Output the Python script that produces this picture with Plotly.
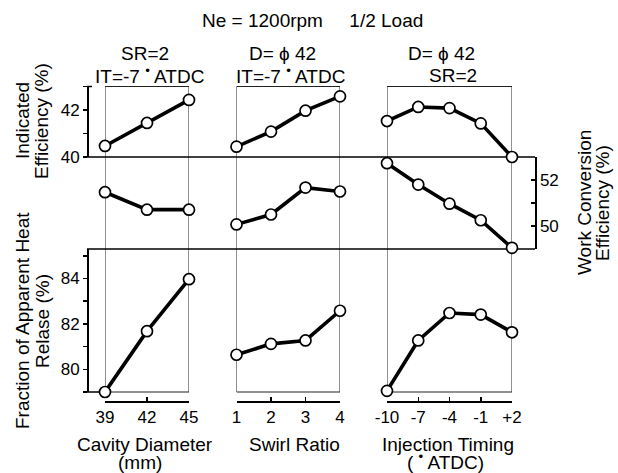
import plotly.graph_objects as go

# ---------------- data ----------------
cavity_diameter = [39, 42, 45]
swirl_ratio = [1, 2, 3, 4]
injection_timing = [-10, -7, -4, -1, 2]
injection_timing_labels = ["-10", "-7", "-4", "-1", "+2"]

ind_eff_cavity = [40.47, 41.45, 42.43]
ind_eff_swirl = [40.44, 41.08, 41.97, 42.58]
ind_eff_timing = [41.53, 42.13, 42.08, 41.43, 40.0]

work_conv_cavity = [51.47, 50.71, 50.71]
work_conv_swirl = [50.07, 50.50, 51.67, 51.50]
work_conv_timing = [52.73, 51.80, 50.97, 50.25, 49.05]

heat_rel_cavity = [79.0, 81.68, 83.97]
heat_rel_swirl = [80.64, 81.12, 81.27, 82.58]
heat_rel_timing = [79.05, 81.27, 82.48, 82.41, 81.63]

ind_eff_ticks = [40, 42]
work_conv_ticks = [50, 52]
heat_rel_ticks = [80, 82, 84]

# ---------------- layout geometry (pixels) ----------------
W, H = 618, 473
FONT = "Liberation Sans, Arial, Helvetica, sans-serif"


def px(x):
    return x / W


def py(y):
    return 1 - y / H


left_axis_x = 87
right_axis_x = 535
panels_px = [(105, 189), (236.5, 340), (387, 512)]
row_top = (86.5, 157)
row_mid = (157, 249)
row_bot = (249, 392)
xaxis_line_y = 401

fig = go.Figure()

panel_x = [cavity_diameter, swirl_ratio, injection_timing]
rows = [
    ("y", [ind_eff_cavity, ind_eff_swirl, ind_eff_timing]),
    ("y2", [work_conv_cavity, work_conv_swirl, work_conv_timing]),
    ("y3", [heat_rel_cavity, heat_rel_swirl, heat_rel_timing]),
]
xnames = ["x", "x2", "x3"]

for yname, series in rows:
    for i, vals in enumerate(series):
        fig.add_trace(go.Scatter(
            x=panel_x[i], y=vals, xaxis=xnames[i], yaxis=yname,
            mode="lines+markers",
            line=dict(color="black", width=3.6),
            marker=dict(symbol="circle", size=11, color="white",
                        line=dict(color="black", width=1.7)),
            cliponaxis=False, showlegend=False, hoverinfo="skip",
        ))

tickfont = dict(family=FONT, size=17, color="black")

xaxis_common = dict(
    anchor="free", position=py(xaxis_line_y), showline=True, linecolor="black",
    linewidth=1.5, ticks="inside", ticklen=4, tickwidth=1.5, tickcolor="black",
    showgrid=False, zeroline=False, tickfont=tickfont, automargin=False,
    fixedrange=True,
)

layout_axes = {}
x_ticktexts = [[str(v) for v in cavity_diameter], [str(v) for v in swirl_ratio],
               injection_timing_labels]
for i, (a, b) in enumerate(panels_px):
    key = "xaxis" if i == 0 else f"xaxis{i+1}"
    layout_axes[key] = dict(
        xaxis_common, domain=[px(a), px(b)],
        range=[panel_x[i][0], panel_x[i][-1]],
        tickvals=panel_x[i], ticktext=x_ticktexts[i],
    )

yaxis_common = dict(
    anchor="free", showline=True, linecolor="black", linewidth=1.5,
    ticklen=4, tickwidth=1.5, tickcolor="black", showgrid=False, zeroline=False,
    tickfont=tickfont, automargin=False, fixedrange=True,
)
layout_axes["yaxis"] = dict(
    yaxis_common, domain=[py(row_top[1]), py(row_top[0])], range=[40, 43],
    position=px(left_axis_x), side="left", ticks="outside",
    tickvals=ind_eff_ticks,
    minor=dict(dtick=1, tick0=40, ticks="outside", ticklen=4, tickwidth=1.5,
               tickcolor="black"),
)
layout_axes["yaxis2"] = dict(
    yaxis_common, domain=[py(row_mid[1]), py(row_mid[0])], range=[49, 53],
    position=px(right_axis_x), side="right", ticks="inside",
    tickvals=work_conv_ticks,
    minor=dict(dtick=1, tick0=49, ticks="inside", ticklen=4, tickwidth=1.5,
               tickcolor="black"),
)
layout_axes["yaxis3"] = dict(
    yaxis_common, domain=[py(row_bot[1]), py(row_bot[0])], range=[79, 85.3],
    position=px(left_axis_x), side="left", ticks="outside",
    tickvals=heat_rel_ticks,
    minor=dict(dtick=1, tick0=79, ticks="outside", ticklen=4, tickwidth=1.5,
               tickcolor="black"),
)

# ---------------- frame lines ----------------
shapes = []
for i in range(3):
    shapes.append(dict(
        type="rect", xref=xnames[i], yref="paper",
        x0=panel_x[i][0], x1=panel_x[i][-1],
        y0=py(row_bot[1]), y1=py(row_top[0]),
        line=dict(color="#222", width=1), layer="below",
    ))
for yy in (row_top[1], row_mid[1]):
    shapes.append(dict(
        type="line", xref="paper", yref="paper",
        x0=px(left_axis_x), x1=px(right_axis_x), y0=py(yy), y1=py(yy),
        line=dict(color="black", width=1.6), layer="below",
    ))
shapes.append(dict(type="line", xref="paper", yref="paper",
                   x0=px(left_axis_x), x1=px(panels_px[0][0]),
                   y0=py(row_bot[1]), y1=py(row_bot[1]),
                   line=dict(color="black", width=1.5), layer="below"))
shapes.append(dict(type="line", xref="paper", yref="paper",
                   x0=px(left_axis_x), x1=px(left_axis_x + 5),
                   y0=py(row_top[0]), y1=py(row_top[0]),
                   line=dict(color="black", width=1.5), layer="below"))

# ---------------- text ----------------
tf = dict(family=FONT, size=19, color="black")
ann = []


def add_text(text, x, y, angle=0):
    ann.append(dict(text=text, x=px(x), y=py(y), xref="paper", yref="paper",
                    showarrow=False, font=tf, textangle=angle,
                    xanchor="center", yanchor="middle"))


add_text("Ne = 1200rpm&nbsp;&nbsp;&nbsp;&nbsp;&nbsp;1/2 Load", 312, 20)

dot = "<sup>•</sup>"
centers = [(a + b) / 2 for a, b in panels_px]
add_text("SR=2", centers[0] - 2, 54)
add_text(f"IT=-7 {dot} ATDC", centers[0] + 2, 75)
add_text("D= ϕ 42", centers[1] - 6, 54)
add_text(f"IT=-7 {dot} ATDC", centers[1] + 2, 75)
add_text("D= ϕ 42", centers[2] - 8, 54)
add_text("SR=2", centers[2] + 3, 75)

add_text("Cavity Diameter", 145, 444)
add_text("(mm)", 140, 462)
add_text("Swirl Ratio", 294, 444)
add_text("Injection Timing", 448, 444)
add_text(f"( {dot} ATDC)", 445, 461)

add_text("Indicated", 22, 121, -90)
add_text("Efficiency (%)", 41, 121, -90)
add_text("Fraction of Apparent Heat", 22, 321, -90)
add_text("Relase (%)", 42, 321, -90)
add_text("Work Conversion", 584, 203, -90)
add_text("Efficiency (%)", 602, 203, -90)

fig.update_layout(
    width=W, height=H, autosize=False, template="none",
    margin=dict(l=0, r=0, t=0, b=0, pad=0),
    paper_bgcolor="white", plot_bgcolor="rgba(0,0,0,0)",
    shapes=shapes, annotations=ann, showlegend=False,
    font=dict(family=FONT, color="black"),
    **layout_axes,
)

fig.write_html(
    "out.html",
    config=dict(displayModeBar=False, staticPlot=True),
    post_script="document.body.style.margin='0';document.body.style.padding='0';",
)
